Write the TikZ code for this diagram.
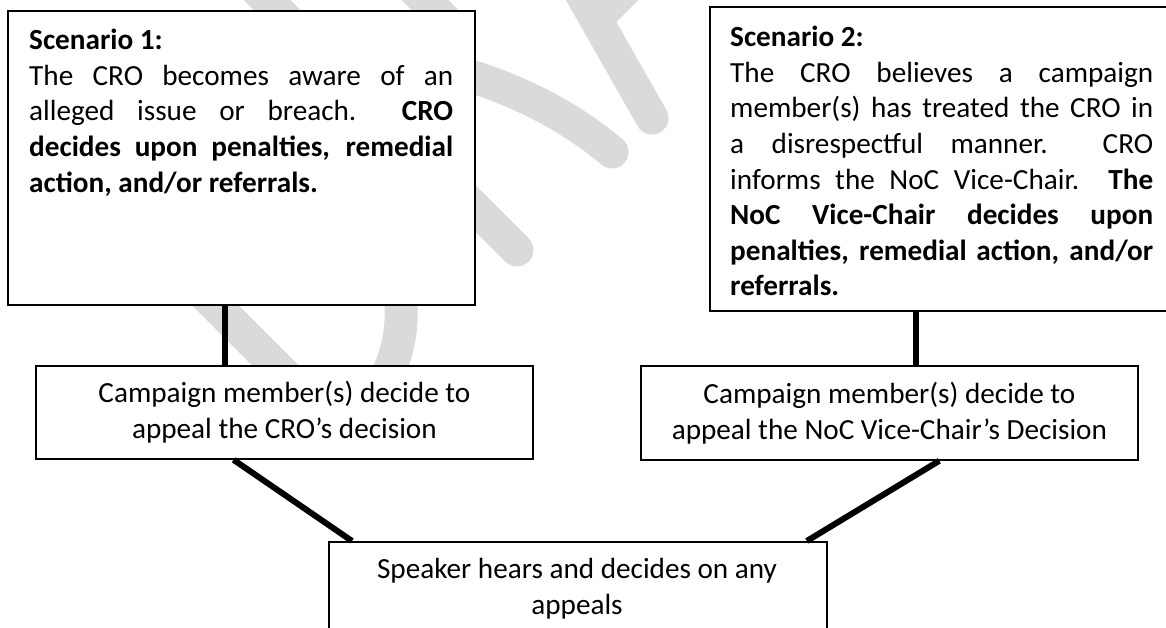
\documentclass[tikz,border=0pt]{standalone}
\usepackage{fontspec}
\setmainfont{Carlito}
\usetikzlibrary{calc}
\definecolor{wm}{RGB}{218,218,218}
\setlength{\parindent}{0pt}
\tolerance=10000 \hbadness=10000 \hyphenpenalty=10000 \exhyphenpenalty=10000
\begin{document}
\begin{tikzpicture}[x=1pt,y=-1pt,
  box/.style={draw=black, fill=white, line width=#1, rectangle, inner sep=0pt, anchor=north west},
  box/.default=1.8pt,
  txt/.style={inner sep=0pt, font=\fontsize{29.2}{35.6}\selectfont},
  conn/.style={draw=black, line width=6pt},
  wmline/.style={draw=wm, line width=33pt, line cap=round}]
\useasboundingbox (0,0) rectangle (1166,628);
\clip (0,0) rectangle (1166,628);
% watermark (faint grey letters behind the boxes)
\draw[wmline] (250,-17) -- (517,250);
\draw[wmline] (400,-25) -- (445,20);
\draw[wmline] (425,64) .. controls (500,80) and (565,112) .. (612,152);
\draw[wmline] (578,-12) -- (652,118);
\draw[wmline] (600,15) -- (660,-45);
\draw[wmline] (120,210) -- (338,428);
\draw[wmline] (395,270) .. controls (405,305) and (405,345) .. (380,390);
% boxes
\node[box=2.3pt, minimum width=467pt, minimum height=294pt] (b1) at (7,10) {};
\node[txt, anchor=north west] (t1) at (29,29)
  {\parbox[t]{424pt}{\textbf{Scenario 1:}\par
   The CRO becomes aware of an\linebreak
   alleged issue or breach.\ \ \textbf{CRO}\linebreak
   \textbf{decides upon penalties, remedial}\linebreak
   \textbf{action, and/or referrals.}}};
\node[box=2.3pt, minimum width=500pt, minimum height=304pt] (b2) at (709,6) {};
\node[txt, anchor=north west] (t2) at (730,26)
  {\parbox[t]{423pt}{\textbf{Scenario 2:}\par
   The CRO believes a campaign\linebreak
   member(s) has treated the CRO in\linebreak
   a disrespectful manner.\ \ CRO\linebreak
   informs the NoC Vice-Chair.\ \ \textbf{The}\linebreak
   \textbf{NoC Vice-Chair decides upon}\linebreak
   \textbf{penalties, remedial action, and/or}\linebreak
   \textbf{referrals.}}};
\node[box, txt, minimum width=497pt, minimum height=93pt, align=center] (b3) at (35,365)
  {Campaign member(s) decide to\\appeal the CRO’s decision};
\node[box, txt, minimum width=497pt, minimum height=94pt, align=center] (b4) at (640,365)
  {Campaign member(s) decide to\\appeal the NoC Vice-Chair’s Decision};
\node[box, minimum width=498pt, minimum height=110pt] (b5) at (328,541) {};
\node[txt, anchor=north, align=center] (t5) at (577,558)
  {Speaker hears and decides on any\\appeals};
% connectors
\coordinate (c1) at ($(b1.south west)!0.4646!(b1.south east)$);
\coordinate (c2) at ($(b2.south west)!0.412!(b2.south east)$);
\draw[conn] (c1) -- (c1 |- b3.north);
\draw[conn] (c2) -- (c2 |- b4.north);
\draw[conn] ($(b3.south west)!0.398!(b3.south east)$) -- ($(b5.north west)!0.048!(b5.north east)$);
\draw[conn] ($(b4.south west)!0.600!(b4.south east)$) -- ($(b5.north west)!0.958!(b5.north east)$);
\end{tikzpicture}
\end{document}
